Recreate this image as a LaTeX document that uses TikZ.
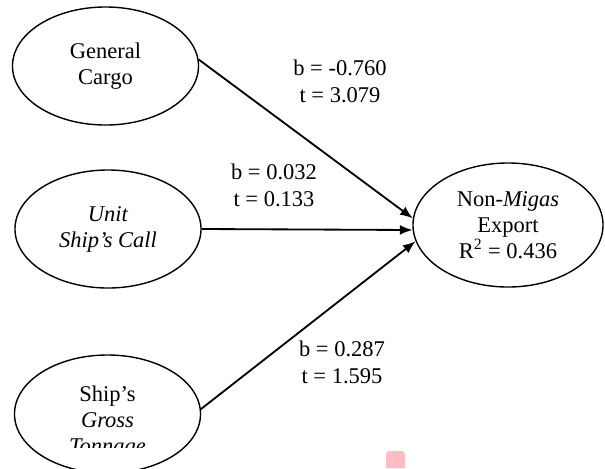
\documentclass[tikz,border=0pt]{standalone}
\usepackage{fontspec}
\setmainfont{Liberation Serif}
\usetikzlibrary{arrows.meta,shapes.geometric}
\definecolor{markpink}{RGB}{255,188,193}

\begin{document}
\begin{tikzpicture}[x=0.025cm, y=-0.025cm,
  var/.style={draw, ellipse, line width=1pt, inner sep=0pt, minimum width=4.65cm, minimum height=2.95cm, align=center, font=\fontsize{16}{18.5}\selectfont},
  coef/.style={align=center, font=\fontsize{16}{19}\selectfont},
  effect/.style={line width=1.3pt, -{Latex[length=9pt,width=7pt]}}]
\useasboundingbox (0,0) rectangle (605,468);
% latent variables
\node[var] (gc) at (105.5,66) {General\\Cargo};
\node[var] (usc) at (108,229) {\textit{Unit}\\\textit{Ship's Call}};
\node[var] (gt) at (107.5,414) {};
\begin{scope}
\clip (0,0) rectangle (605,447);
\node[align=center, font=\fontsize{16}{18.5}\selectfont] (gtname) at (107.5,422) {Ship's\\\textit{Gross}\\\textit{Tonnage}};
\end{scope}
\node[var, minimum width=4.75cm, minimum height=3.1cm] (nme) at (508,225) {Non-\textit{Migas}\\Export\\R\textsuperscript{2} = 0.436};
% paths
\draw[effect] (gc.4) -- (nme.176);
\draw[effect] (usc.east) -- (nme.183);
\draw[effect] (gt.3) -- (nme.190);
\node[coef] (c1) at (340,81) {b = -0.760\\t = 3.079};
\node[coef] (c2) at (274,185) {b = 0.032\\t = 0.133};
\node[coef] (c3) at (342,362) {b = 0.287\\t = 1.595};
% small mark at the bottom edge
\fill[markpink] (386,468) [rounded corners=2.5pt] |- (405,451) [sharp corners] -- (405,468) -- cycle;
\end{tikzpicture}
\end{document}
